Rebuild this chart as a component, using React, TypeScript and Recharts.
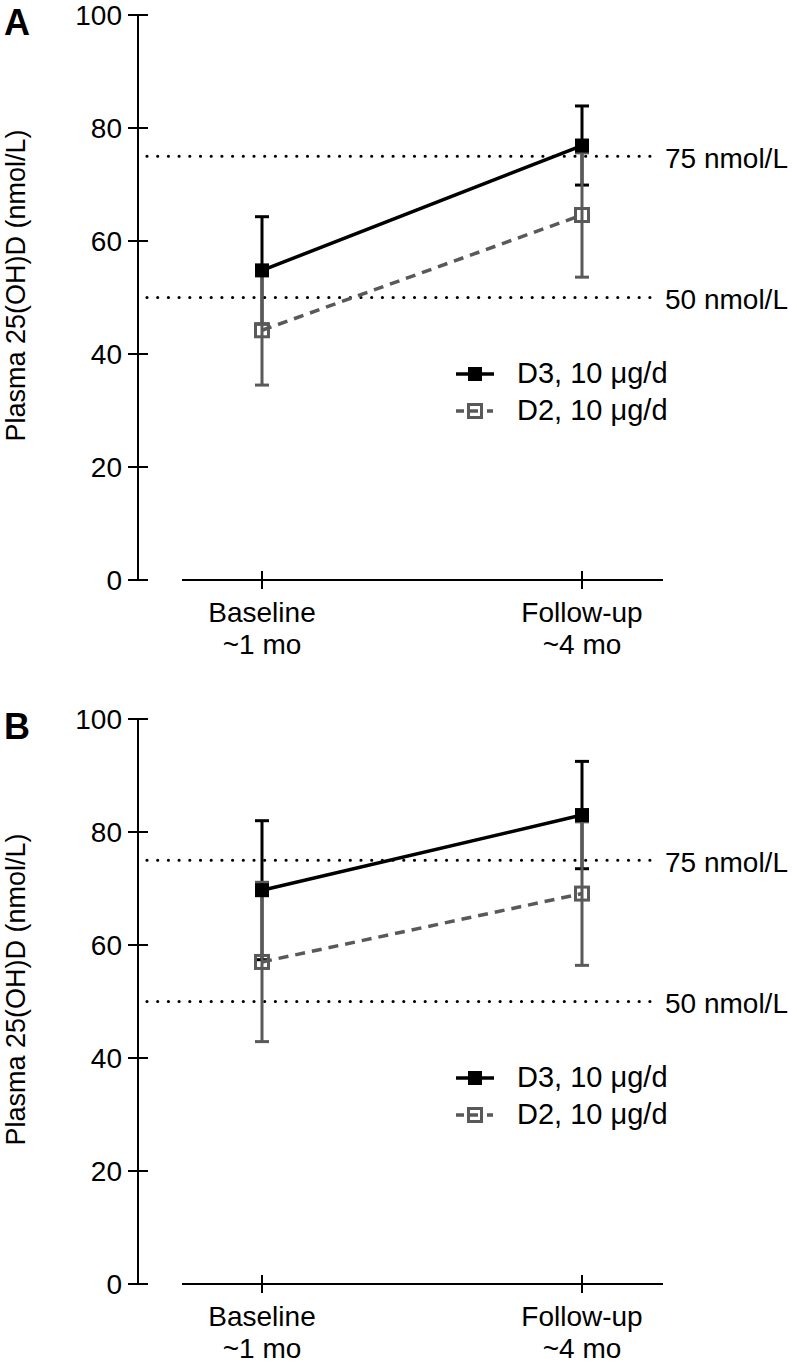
import { LineChart, Line, XAxis, YAxis, ErrorBar, ReferenceLine, Legend } from 'recharts';

// time points on the x axis
const timeLabels = ['Baseline', 'Follow-up'];
const timeSubLabels = ['~1 mo', '~4 mo'];
const yTicks = [0, 20, 40, 60, 80, 100];
const targetLevels = [75, 50];
const seriesNames = ['D3, 10 μg/d', 'D2, 10 μg/d'];

// panel A – means and SD
const d3MeanA = [54.8, 76.9];
const d3SdA = [9.5, 7.0];
const d2MeanA = [44.2, 64.6];
const d2SdA = [9.7, 11.0];

// panel B – means and SD
const d3MeanB = [69.7, 83.0];
const d3SdB = [12.3, 9.5];
const d2MeanB = [57.0, 69.1];
const d2SdB = [14.1, 12.7];

const FONT = '"Liberation Sans", Arial, Helvetica, sans-serif';
const GRAY = '#595959';
const W = 797;
const H = 700;
const PLOT_TOP = 15;
const X_AXIS_H = 120;
const PLOT_H = H - PLOT_TOP - X_AXIS_H;

const buildRows = (d3: number[], d3Sd: number[], d2: number[], d2Sd: number[]) =>
  timeLabels.map((t, i) => ({ time: t, d3: d3[i], d3Err: d3Sd[i], d2: d2[i], d2Err: d2Sd[i] }));

const YTick = (props: any) => {
  const { x, y, payload } = props;
  return (
    <g>
      <line x1={x - 10} x2={x + 10} y1={y} y2={y} stroke="#000" strokeWidth={2} />
      <text x={x - 16} y={y + 10} textAnchor="end" fontSize={28} fill="#000" fontFamily={FONT}>
        {payload.value}
      </text>
    </g>
  );
};

const XTick = (props: any) => {
  const { x, y, payload, index } = props;
  return (
    <g>
      <line x1={x} x2={x} y1={y - 9} y2={y + 9} stroke="#000" strokeWidth={2} />
      <text x={x} y={y + 42} textAnchor="middle" fontSize={28} fill="#000" fontFamily={FONT}>
        {payload.value}
      </text>
      <text x={x} y={y + 74} textAnchor="middle" fontSize={28} fill="#000" fontFamily={FONT}>
        {timeSubLabels[index]}
      </text>
    </g>
  );
};

const FilledSquare = (p: any) => (
  <rect key={`f-${p.index}`} x={p.cx - 7} y={p.cy - 7} width={14} height={14} fill="#000" />
);

const OpenSquare = (p: any) => (
  <rect key={`o-${p.index}`} x={p.cx - 6.5} y={p.cy - 6.5} width={13} height={13} fill="none" stroke={GRAY} strokeWidth={3} />
);

const DottedLine = (p: any) => (
  <line x1={p.x1 + 9} y1={p.y1} x2={p.x2 - 6} y2={p.y2} stroke="#000" strokeWidth={3.2}
    strokeDasharray="0 10.7" strokeLinecap="round" />
);

const AxisBase = (p: any) => (
  <line x1={p.x1 + 44} y1={p.y1} x2={p.x2} y2={p.y2} stroke="#000" strokeWidth={2} />
);

const LegendBox = () => (
  <div style={{ fontFamily: FONT, fontSize: 29, color: '#000' }}>
    {seriesNames.map((name, i) => (
      <div key={name} style={{ display: 'flex', alignItems: 'center', height: 37, whiteSpace: 'nowrap' }}>
        <svg width={38} height={20} style={{ marginRight: 23 }}>
          {i === 0 ? (
            <>
              <line x1={0} x2={38} y1={10} y2={10} stroke="#000" strokeWidth={3.5} />
              <rect x={12} y={3} width={14} height={14} fill="#000" />
            </>
          ) : (
            <>
              <line x1={0} x2={8} y1={10} y2={10} stroke={GRAY} strokeWidth={3.5} />
              <line x1={14} x2={22} y1={10} y2={10} stroke={GRAY} strokeWidth={3.5} />
              <line x1={31} x2={37} y1={10} y2={10} stroke={GRAY} strokeWidth={3.5} />
              <rect x={12.5} y={3.5} width={13} height={13} fill="none" stroke={GRAY} strokeWidth={3} />
            </>
          )}
        </svg>
        <span>{name}</span>
      </div>
    ))}
  </div>
);

function Panel({ letter, top, data }: { letter: string; top: number; data: any[] }) {
  return (
    <div style={{ position: 'absolute', left: 0, top, width: W, height: H }}>
      <div style={{ position: 'absolute', left: 4, top: 5, fontFamily: FONT, fontWeight: 'bold', fontSize: 36, lineHeight: '36px' }}>
        {letter}
      </div>
      <LineChart width={W} height={H} data={data} margin={{ top: PLOT_TOP, right: 134, bottom: 0, left: 0 }}>
        <XAxis
          dataKey="time"
          height={X_AXIS_H}
          axisLine={false}
          tickLine={false}
          tickSize={0}
          tickMargin={0}
          interval={0}
          padding={{ left: 124, right: 81 }}
          tick={<XTick />}
        />
        <YAxis
          domain={[0, 100]}
          ticks={yTicks}
          width={138}
          axisLine={{ stroke: '#000', strokeWidth: 2 }}
          tickLine={false}
          tickSize={0}
          tickMargin={0}
          tick={<YTick />}
          label={{
            content: () => (
              <text
                x={25}
                y={PLOT_TOP + PLOT_H / 2 - 12}
                transform={`rotate(-90 25 ${PLOT_TOP + PLOT_H / 2 - 12})`}
                textAnchor="middle"
                fontSize={27}
                fill="#000"
                fontFamily={FONT}
              >
                Plasma 25(OH)D (nmol/L)
              </text>
            ),
          }}
        />
        <ReferenceLine y={0} shape={AxisBase} />
        {targetLevels.map((v) => (
          <ReferenceLine
            key={v}
            y={v}
            shape={DottedLine}
            label={{ value: `${v} nmol/L`, position: 'right', offset: 2, fontSize: 28, fill: '#000', fontFamily: FONT, dy: 2 }}
          />
        ))}
        <Line dataKey="d3" stroke="none" dot={false} activeDot={false} legendType="none" isAnimationActive={false}>
          <ErrorBar dataKey="d3Err" width={7} stroke="#000" strokeWidth={3} />
        </Line>
        <Line dataKey="d2" stroke="none" dot={false} activeDot={false} legendType="none" isAnimationActive={false}>
          <ErrorBar dataKey="d2Err" width={7} stroke={GRAY} strokeWidth={3} />
        </Line>
        <Line dataKey="d3" stroke="#000" strokeWidth={3.5} dot={FilledSquare} activeDot={false} isAnimationActive={false} />
        <Line dataKey="d2" stroke={GRAY} strokeWidth={3.5} strokeDasharray="10 7" dot={OpenSquare} activeDot={false} isAnimationActive={false} />
        <Legend
          layout="vertical"
          align="center"
          verticalAlign="middle"
          content={<LegendBox />}
          wrapperStyle={{ left: 456, top: 355, width: 300 }}
        />
      </LineChart>
    </div>
  );
}

export default function App() {
  const dataA = buildRows(d3MeanA, d3SdA, d2MeanA, d2SdA);
  const dataB = buildRows(d3MeanB, d3SdB, d2MeanB, d2SdB);
  return (
    <div style={{ position: 'absolute', left: 0, top: 0, width: W, height: 1364, overflow: 'hidden', background: '#fff', fontFamily: FONT }}>
      <Panel letter="A" top={0} data={dataA} />
      <Panel letter="B" top={704} data={dataB} />
    </div>
  );
}
